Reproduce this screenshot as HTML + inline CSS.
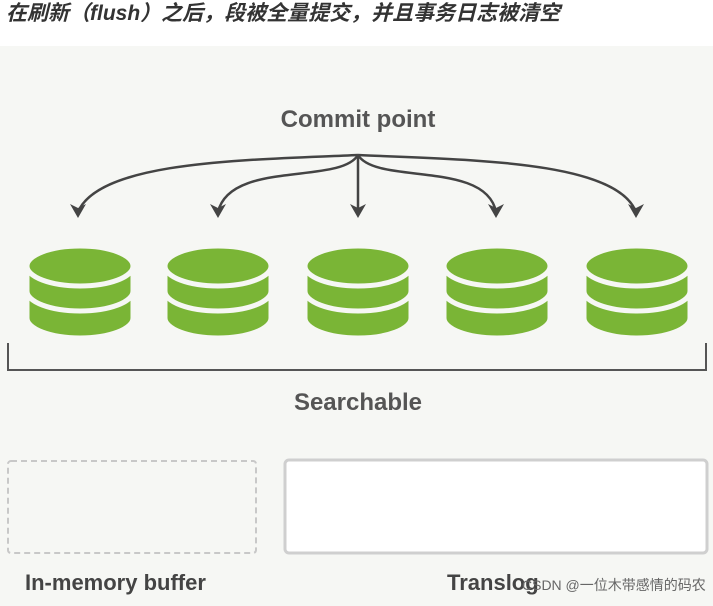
<!DOCTYPE html>
<html><head><meta charset="utf-8"><style>
body{margin:0;width:713px;height:601px;overflow:hidden;background:#f6f7f4;font-family:"Liberation Sans","Noto Sans CJK SC",sans-serif}
</style></head><body>
<svg width="713" height="601" xmlns="http://www.w3.org/2000/svg">
<rect x="0" y="0" width="713" height="46" fill="#fff"/>
<text x="6" y="20" font-size="21" font-weight="bold" font-style="italic" fill="#333" font-family="Liberation Sans,Noto Sans CJK SC,sans-serif">在刷新（flush）之后，段被全量提交，并且事务日志被清空</text>
<text x="358" y="127" font-size="24" font-weight="bold" fill="#555" text-anchor="middle">Commit point</text>
<g fill="none" stroke="#444" stroke-width="2.5">
<path d="M358,155 C250,160 100,160 78,212"/>
<path d="M358,155 C340,185 230,160 218,212"/>
<path d="M358,155 L358,212"/>
<path d="M358,155 C376,185 486,160 496,212"/>
<path d="M358,155 C466,160 616,160 636,212"/>
</g>
<g fill="#444">
<path d="M70,204 L78,218 L86,204 L78,208Z"/>
<path d="M210,204 L218,218 L226,204 L218,208Z"/>
<path d="M350,204 L358,218 L366,204 L358,208Z"/>
<path d="M488,204 L496,218 L504,204 L496,208Z"/>
<path d="M628,204 L636,218 L644,204 L636,208Z"/>
</g>
<defs>
<g id="db" fill="#7ab536" stroke="#f6f7f4" stroke-width="5">
<path d="M-53,296 L-53,318 A53,20 0 0 0 53,318 L53,296 A53,20 0 0 0 -53,296Z"/>
<path d="M-53,273 L-53,291 A53,20 0 0 0 53,291 L53,273 A53,20 0 0 0 -53,273Z"/>
<ellipse cx="0" cy="266" rx="53" ry="20"/>
</g>
</defs>
<use href="#db" x="80"/>
<use href="#db" x="218"/>
<use href="#db" x="358"/>
<use href="#db" x="497"/>
<use href="#db" x="637"/>
<path d="M8,343 L8,370 L706,370 L706,343" fill="none" stroke="#555" stroke-width="2"/>
<text x="358" y="410" font-size="24" font-weight="bold" fill="#555" text-anchor="middle">Searchable</text>
<rect x="8" y="461" width="248" height="92" rx="3" fill="none" stroke="#c8c8c8" stroke-width="2" stroke-dasharray="6,4"/>
<rect x="285" y="460" width="422" height="93" rx="4" fill="#fff" stroke="#cfcfcf" stroke-width="3"/>
<text x="25" y="590" font-size="22" font-weight="bold" fill="#444">In-memory buffer</text>
<text x="447" y="590" font-size="22" font-weight="bold" fill="#444">Translog</text>
<text x="522" y="590" font-size="14" fill="#666">CSDN @一位木带感情的码农</text>
</svg>
</body></html>
